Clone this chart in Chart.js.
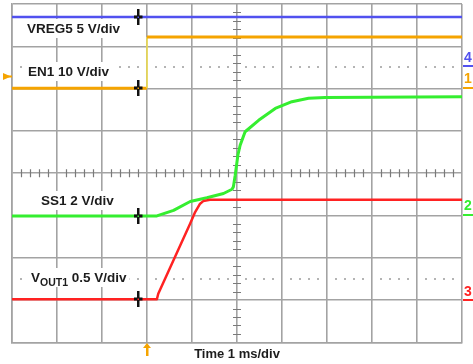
<!DOCTYPE html>
<html>
<head>
<meta charset="utf-8">
<script src="https://cdn.jsdelivr.net/npm/chart.js@4/dist/chart.umd.min.js"></script>
<style>
  html, body { margin: 0; padding: 0; background: #ffffff; }
  #c { display: block; }
</style>
</head>
<body>
<canvas id="c" width="473" height="364"></canvas>
<script>
// Time axis in ms (1 ms/div), trigger at t = 0. Vertical values in screen divisions (8 div full scale).
const vreg5T = [-3, 7];
const vreg5Y = [7.69, 7.69];

const en1T = [-3, 0, 0, 7];
const en1Y = [6.01, 6.01, 7.22, 7.22];

const ss1T = [-3, 0.22, 0.59, 0.96, 1.33, 1.70, 1.89, 1.92, 1.96, 2.02, 2.07, 2.18, 2.48, 2.85, 3.22, 3.59, 3.96, 7];
const ss1Y = [2.99, 2.99, 3.12, 3.33, 3.42, 3.52, 3.62, 3.68, 3.95, 4.43, 4.66, 4.98, 5.25, 5.53, 5.69, 5.77, 5.79, 5.81];

const vout1T = [-3, 0.22, 0.25, 0.96, 1.07, 1.18, 1.25, 1.40, 7];
const vout1Y = [1.02, 1.02, 1.15, 2.81, 3.08, 3.28, 3.34, 3.37, 3.37];

const channelLabels = ["VREG5 5 V/div", "EN1 10 V/div", "SS1 2 V/div", "V", "OUT1", " 0.5 V/div"];
const channelNumbers = ["4", "1", "2", "3"];
const xTitle = "Time 1 ms/div";
const markerT = -0.2;

const colors = { vreg5: '#5151ef', en1: '#f5a400', ss1: '#35ee30', vout1: '#ff2222', step: '#f3e04a' };

function pts(t, y) { return t.map((v, i) => ({ x: v, y: y[i] })); }

const FONT = '"Liberation Sans", Arial, sans-serif';

const overlay = {
  id: 'overlay',
  beforeDatasetsDraw(chart) {
    const { ctx, scales: { x, y }, chartArea: a } = chart;
    ctx.save();
    // dotted guide lines at 6.5 and 1.5 div
    ctx.fillStyle = '#b4b4b4';
    [6.5, 1.5].forEach(v => {
      const py = Math.round(y.getPixelForValue(v));
      for (let k = 1; k < 50; k++) {
        const px = Math.round(x.getPixelForValue(-3 + k * 0.2));
        if (k % 5 === 0) continue;
        ctx.fillRect(px - 1, py - 1, 2, 2);
      }
    });
    // center-line minor ticks
    ctx.strokeStyle = '#7a7a7a';
    ctx.lineWidth = 1.2;
    const cx = x.getPixelForValue(2);
    const cy = y.getPixelForValue(4);
    ctx.beginPath();
    for (let k = 1; k < 40; k++) {
      if (k % 5 === 0) continue;
      const py = Math.round(y.getPixelForValue(k * 0.2)) + 0.5;
      ctx.moveTo(cx - 4, py); ctx.lineTo(cx + 4, py);
    }
    for (let k = 1; k < 50; k++) {
      if (k % 5 === 0) continue;
      const px = Math.round(x.getPixelForValue(-3 + k * 0.2)) + 0.5;
      ctx.moveTo(px, cy - 4); ctx.lineTo(px, cy + 4);
    }
    ctx.stroke();

    // label white boxes + texts
    ctx.font = 'bold 13.5px ' + FONT;
    ctx.textBaseline = 'alphabetic';
    const drawBox = (lx, by, w) => {
      ctx.fillStyle = '#ffffff';
      ctx.fillRect(lx - 3, by - 14, w + 6, 19);
    };
    const simple = [[channelLabels[0], 27, 33], [channelLabels[1], 28, 76], [channelLabels[2], 41, 205]];
    simple.forEach(([t, lx, by]) => {
      const w = ctx.measureText(t).width;
      drawBox(lx, by, w);
      ctx.fillStyle = '#1c1c1c';
      ctx.fillText(t, lx, by);
    });
    // VOUT1 with subscript
    let lx = 31, by = 282;
    ctx.font = 'bold 13.5px ' + FONT;
    const w1 = ctx.measureText(channelLabels[3]).width;
    ctx.font = 'bold 10.5px ' + FONT;
    const w2 = ctx.measureText(channelLabels[4]).width;
    ctx.font = 'bold 13.5px ' + FONT;
    const w3 = ctx.measureText(channelLabels[5]).width;
    drawBox(lx, by, w1 + w2 + w3);
    ctx.fillStyle = '#1c1c1c';
    ctx.fillText(channelLabels[3], lx, by);
    ctx.font = 'bold 10.5px ' + FONT;
    ctx.fillText(channelLabels[4], lx + w1, by + 4);
    ctx.font = 'bold 13.5px ' + FONT;
    ctx.fillText(channelLabels[5], lx + w1 + w2, by);
    ctx.restore();
  },
  afterDatasetsDraw(chart) {
    const { ctx, scales: { x, y }, chartArea: a } = chart;
    ctx.save();
    // ground markers (crosses)
    const mx = Math.round(x.getPixelForValue(markerT));
    [[vreg5Y[0], colors.vreg5], [en1Y[0], colors.en1], [ss1Y[0], colors.ss1], [vout1Y[0], colors.vout1]].forEach(([v, c]) => {
      const my = Math.round(y.getPixelForValue(v));
      ctx.fillStyle = '#111';
      ctx.fillRect(mx - 1, my - 8, 2.5, 16);
      ctx.fillRect(mx - 4, my - 1.5, 8.5, 3);
      ctx.fillStyle = c;
      ctx.fillRect(mx - 0.5, my - 0.5, 1.5, 1.5);
    });
    // right side channel numbers
    ctx.font = 'bold 14px ' + FONT;
    const rx = a.right + 1;
    const nums = [[channelNumbers[0], colors.vreg5, 62, 66], [channelNumbers[1], colors.en1, 83, 88], [channelNumbers[2], colors.ss1, 210, 215], [channelNumbers[3], colors.vout1, 296, 300]];
    nums.forEach(([t, c, by, uy]) => {
      ctx.fillStyle = c;
      ctx.fillText(t, rx + 1, by);
      ctx.fillRect(rx, uy - 1, 10, 2);
    });
    // left trigger level arrow (EN1)
    ctx.fillStyle = colors.en1;
    ctx.beginPath();
    ctx.moveTo(3, 73); ctx.lineTo(11, 76.5); ctx.lineTo(3, 80); ctx.closePath(); ctx.fill();
    ctx.fillRect(8, 75.5, 4, 2);
    // bottom trigger position arrow
    const tx = x.getPixelForValue(0);
    ctx.beginPath();
    ctx.moveTo(tx - 4, 348); ctx.lineTo(tx, 343); ctx.lineTo(tx + 4, 348); ctx.closePath(); ctx.fill();
    ctx.fillRect(tx - 1, 347, 2.5, 9);
    ctx.restore();
  }
};

new Chart(document.getElementById('c'), {
  type: 'line',
  data: {
    datasets: [
      { label: 'VREG5', data: pts(vreg5T, vreg5Y), borderColor: colors.vreg5, borderWidth: 2.5 },
      { label: 'EN1', data: pts(en1T, en1Y), borderColor: colors.en1, borderWidth: 3,
        segment: { borderColor: c => c.p0.parsed.x === c.p1.parsed.x ? colors.step : undefined,
                   borderWidth: c => c.p0.parsed.x === c.p1.parsed.x ? 1.5 : undefined } },
      { label: 'VOUT1', data: pts(vout1T, vout1Y), borderColor: colors.vout1, borderWidth: 2.5 },
      { label: 'SS1', data: pts(ss1T, ss1Y), borderColor: colors.ss1, borderWidth: 3 }
    ]
  },
  options: {
    responsive: false,
    animation: false,
    events: [],
    parsing: false,
    elements: { point: { radius: 0 }, line: { tension: 0, fill: false, borderJoinStyle: 'round' } },
    layout: { padding: { left: 12, right: 11, top: 4, bottom: 0 } },
    plugins: { legend: { display: false }, tooltip: { enabled: false } },
    scales: {
      x: {
        type: 'linear', min: -3, max: 7,
        ticks: { display: false, stepSize: 1 },
        grid: { color: '#a3a3a3', lineWidth: 1.6, drawTicks: false },
        border: { color: '#a3a3a3', width: 1.6 },
        title: { display: true, text: xTitle, color: '#1c1c1c', font: { family: FONT, size: 13, weight: 'bold' }, padding: { top: 4, bottom: 2 } }
      },
      y: {
        type: 'linear', min: 0, max: 8,
        ticks: { display: false, stepSize: 1 },
        grid: { color: '#a3a3a3', lineWidth: 1.6, drawTicks: false },
        border: { color: '#a3a3a3', width: 1.6 }
      }
    }
  },
  plugins: [overlay]
});
</script>
</body>
</html>
